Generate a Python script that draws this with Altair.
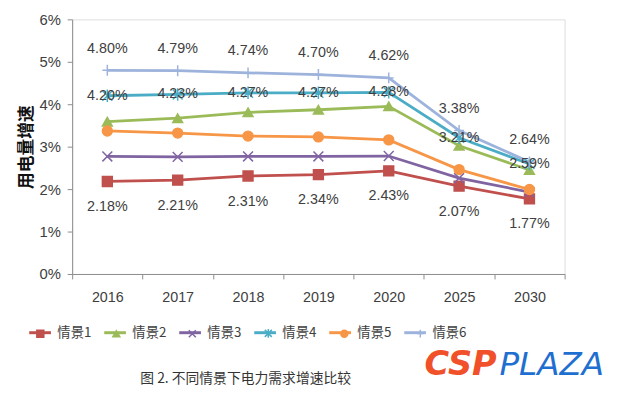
import altair as alt
import pandas as pd

years = ["2016", "2017", "2018", "2019", "2020", "2025", "2030"]
series_names = ["情景1", "情景2", "情景3", "情景4", "情景5", "情景6"]
s1 = [2.18, 2.21, 2.31, 2.34, 2.43, 2.07, 1.77]
s2 = [3.59, 3.67, 3.81, 3.87, 3.95, 3.02, 2.45]
s3 = [2.77, 2.76, 2.77, 2.77, 2.78, 2.26, 1.93]
s4 = [4.20, 4.23, 4.27, 4.27, 4.28, 3.21, 2.59]
s5 = [3.37, 3.32, 3.25, 3.23, 3.16, 2.46, 1.99]
s6 = [4.80, 4.79, 4.74, 4.70, 4.62, 3.38, 2.64]
y_ticks = [0, 1, 2, 3, 4, 5, 6]

colors = ["#C0504D", "#9BBB59", "#8064A2", "#4BACC6", "#F79646", "#9DB3DC"]
shapes = [
    "square",
    "triangle-up",
    "M-1,-1L1,1M-1,1L1,-1",
    "M-1,-1L1,1M-1,1L1,-1M0,-1.25L0,1.25",
    "circle",
    "M-1,0L1,0M0,-1.1L0,1.1",
]

rows = []
for name, vals in zip(series_names, [s1, s2, s3, s4, s5, s6]):
    for yr, v in zip(years, vals):
        rows.append({"year": yr, "series": name, "v": v})
df = pd.DataFrame(rows)

x_enc = alt.X(
    "year:O",
    sort=years,
    scale=alt.Scale(type="band", paddingInner=0, paddingOuter=0),
    axis=alt.Axis(
        title=None, labelAngle=0, tickBand="extent", labelFontSize=14.5,
        labelColor="#404040", labelPadding=12, tickSize=5,
        domainColor="#8C8C8C", tickColor="#8C8C8C", labelFont="Liberation Sans",
    ),
)
y_enc = alt.Y(
    "v:Q",
    scale=alt.Scale(domain=[0, 6], nice=False),
    axis=alt.Axis(
        values=y_ticks, labelExpr="datum.value + '%'", grid=False,
        title="用电量增速", titleFont="Noto Sans CJK SC", titleFontSize=17,
        titleFontWeight="bold", titleColor="#111111", titlePadding=4,
        labelFontSize=15, labelColor="#404040", labelFont="Liberation Sans",
        tickSize=5, labelPadding=7, domainColor="#8C8C8C", tickColor="#8C8C8C",
    ),
)

cscale = alt.Scale(domain=series_names, range=colors)
shscale = alt.Scale(domain=series_names, range=shapes)

leg_common = dict(
    orient="none", direction="horizontal", columns=6, title=None,
    labelFontSize=13.5, labelFont="Noto Sans CJK SC", labelColor="#404040",
    columnPadding=6, padding=0,
)
legend_line = alt.Legend(
    legendX=-45, legendY=305, symbolType="stroke", symbolSize=484,
    symbolStrokeWidth=3, labelOffset=5, **leg_common,
)
legend_pt = alt.Legend(
    legendX=-45, legendY=311, symbolSize=50, symbolStrokeWidth=1.5,
    labelOffset=17, symbolOffset=6, labelOpacity=0, **leg_common,
)

base = alt.Chart(df)

lines = base.mark_line(strokeWidth=2.8).encode(
    x=x_enc, y=y_enc,
    color=alt.Color("series:N", scale=cscale, legend=legend_line),
)

points = base.mark_point(filled=True, size=100, strokeWidth=1.5, opacity=1).encode(
    x=x_enc, y=y_enc,
    color=alt.Color("series:N", scale=cscale, legend=legend_pt),
    stroke=alt.Stroke("series:N", scale=cscale, legend=legend_pt),
    shape=alt.Shape("series:N", scale=shscale, legend=legend_pt),
)

def labels(series, dy):
    return base.transform_filter(
        alt.datum.series == series
    ).transform_calculate(
        lbl="format(datum.v, '.2f') + '%'"
    ).mark_text(
        dy=dy, fontSize=14.5, color="#404040", font="Liberation Sans"
    ).encode(x=x_enc, y=y_enc, text="lbl:N")

lab6 = labels("情景6", -22)
lab4 = labels("情景4", 0)
lab1 = labels("情景1", 26)

caption = alt.Chart(pd.DataFrame({"t": ["图 2. 不同情景下电力需求增速比较"]})).mark_text(
    align="left", baseline="middle", fontSize=14, font="Noto Sans CJK SC", color="#333333"
).encode(x=alt.value(69), y=alt.value(364), text="t:N")

logo1 = alt.Chart(pd.DataFrame({"t": ["CSP"]})).mark_text(
    align="left", baseline="middle", fontSize=34, font="DejaVu Sans",
    fontWeight="bold", fontStyle="italic", color="#F0502A"
).encode(x=alt.value(357), y=alt.value(350), text="t:N")

logo2 = alt.Chart(pd.DataFrame({"t": ["PLAZA"]})).mark_text(
    align="left", baseline="middle", fontSize=33, font="DejaVu Sans",
    fontStyle="italic", color="#1F6FD0"
).encode(x=alt.value(433), y=alt.value(350), text="t:N")

chart = alt.layer(
    lines, points, lab6, lab4, lab1, caption, logo1, logo2
).resolve_legend(
    color="independent", shape="independent", stroke="independent"
).properties(
    width=499, height=258,
    autosize=alt.AutoSizeParams(type="none"),
    padding={"left": 65, "top": 9, "right": 48, "bottom": 112},
).configure_view(stroke=None).configure(background="white")

chart.save("out.html", embed_options={"renderer": "svg", "actions": False})
